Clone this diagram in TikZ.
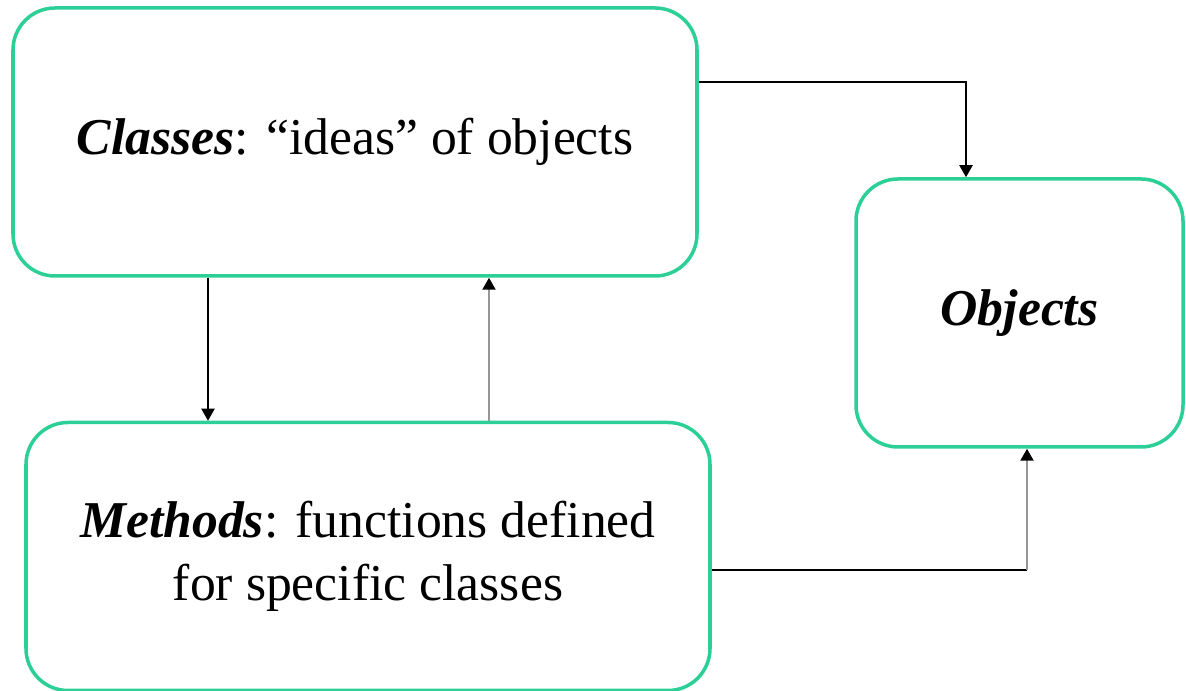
\documentclass[tikz,border=0pt]{standalone}
\usepackage{fontspec}
\setmainfont{Liberation Serif}
\usetikzlibrary{arrows.meta}
\definecolor{boxgreen}{RGB}{44,208,150}
\definecolor{linkgray}{RGB}{150,150,150}
\tikzstyle{every picture}=[>={Triangle[length=0.12cm, width=0.13cm, color=black]}]
\tikzstyle{box}=[draw=boxgreen, line width=1pt, rounded corners=0.42cm,%
	minimum height=2.68cm, inner sep=0pt, align=center,%
	font=\fontsize{14.7}{17.9}\selectfont]
\tikzstyle{link}=[line width=0.6pt]

\begin{document}
\begin{tikzpicture}
	\useasboundingbox (0,0) rectangle (11.86,-6.91);
	\node[box, minimum width=6.84cm] (C) at (3.55,-1.42) {\textbf{\textit{Classes}}: “ideas” of objects};
	\node[box, minimum width=6.84cm] (M) at (3.68,-5.565) {\textbf{\textit{Methods}}: functions defined\\for specific classes};
	\node[box, minimum width=3.27cm] (O) at (10.195,-3.13) {\textbf{\textit{Objects}}};
	\coordinate (co) at (9.66,-0.82);
	\coordinate (cm) at (2.08,-3.5);
	\coordinate (mc) at (4.89,-3.5);
	\coordinate (mo) at (10.27,-5.70);
	\draw[->, link] (C.east |- co) -- (co) -- (O.north -| co);
	\draw[->, link] (C.south -| cm) -- (M.north -| cm);
	\draw[->, link, linkgray] (M.north -| mc) -- (C.south -| mc);
	\draw[link] (M.east |- mo) -- (mo);
	\draw[->, link, linkgray] (mo) -- (O.south -| mo);
\end{tikzpicture}
\end{document}
